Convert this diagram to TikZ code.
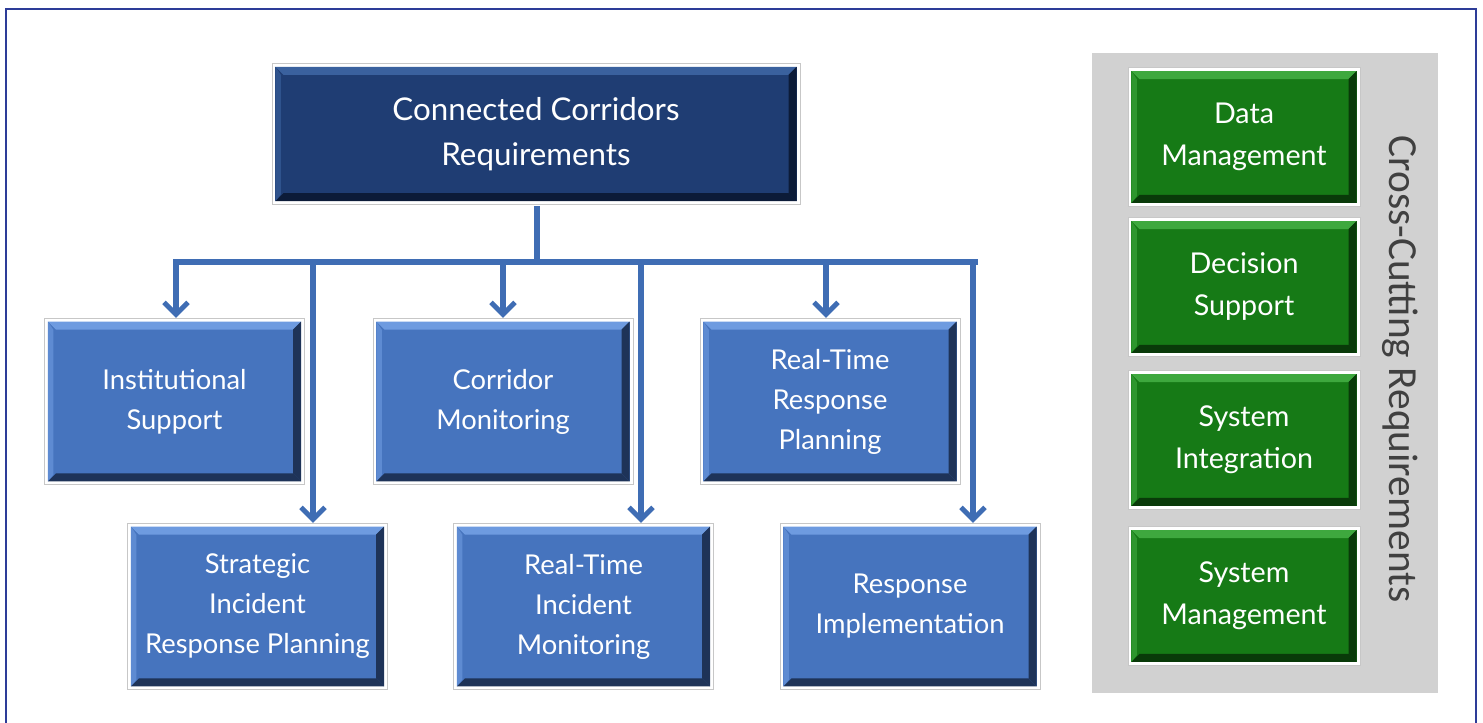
\documentclass[tikz,border=0pt]{standalone}
\usepackage{fontspec}
\setmainfont{Lato}
\newfontfamily\sidefont{Carlito}
\usetikzlibrary{arrows.meta}
\definecolor{bbase}{HTML}{4674BE}
\definecolor{bdark}{HTML}{1E3358}
\definecolor{blight}{HTML}{6E9BE0}
\definecolor{nbase}{HTML}{1F3D73}
\definecolor{ndark}{HTML}{0C1B38}
\definecolor{nlight}{HTML}{3A619E}
\definecolor{gbase}{HTML}{167A16}
\definecolor{gdark}{HTML}{093A09}
\definecolor{glight}{HTML}{3EA83E}
\definecolor{conn}{HTML}{3F6DB4}
\definecolor{framec}{HTML}{2D3C98}
\definecolor{panel}{HTML}{D1D1D1}
\definecolor{sidetext}{HTML}{404040}
\tikzset{
  bevel/.style n args={3}{
    rectangle, draw=black!22, line width=0.6pt, fill=white, text=white,
    align=center,
    path picture={
      \path (path picture bounding box.south west) ++(2.6pt,2.6pt) coordinate (isw);
      \path (path picture bounding box.north east) ++(-2.6pt,-2.6pt) coordinate (ine);
      \path (isw |- ine) coordinate (inw);
      \path (ine |- isw) coordinate (ise);
      \fill[#1] (isw) rectangle (ine);
      \fill[#3] (inw) -- (ine) -- ([shift={(-6pt,-6pt)}]ine) -- ([shift={(6pt,-6pt)}]inw) -- cycle;
      \fill[#3!60!#1] (inw) -- (isw) -- ([shift={(4pt,5pt)}]isw) -- ([shift={(4pt,-6pt)}]inw) -- cycle;
      \fill[#2] (isw) -- (ise) -- ([shift={(-6pt,6pt)}]ise) -- ([shift={(6pt,6pt)}]isw) -- cycle;
      \fill[#2] (ise) -- (ine) -- ([shift={(-6pt,-6pt)}]ine) -- ([shift={(-6pt,6pt)}]ise) -- cycle;
    }},
  bluebox/.style={bevel={bbase}{bdark}{blight}, minimum width=195pt, minimum height=125pt,
    font=\fontsize{20.5}{30}\selectfont},
  navybox/.style={bevel={nbase}{ndark}{nlight}, minimum width=396pt, minimum height=106pt,
    font=\fontsize{23.5}{34}\selectfont},
  greenbox/.style={bevel={gbase}{gdark}{glight}, minimum width=174pt, minimum height=104pt,
    font=\fontsize{21.5}{31.5}\selectfont},
  conline/.style={draw=conn, line width=3.9pt},
  conarrow/.style={conline, -{Straight Barb[length=9pt,width=18pt,line width=3.6pt]}},
}
\begin{document}
\begin{tikzpicture}[x=0.75pt,y=-0.75pt]
\useasboundingbox (0,0) rectangle (1483,723);
\begin{scope}
\clip (0,0) rectangle (1483,723);
\draw[framec, line width=1.6pt] (6,9) rectangle (1476,740);
\end{scope}
% right panel
\fill[panel] (1092,53) rectangle (1438,693);
\node[greenbox] (dm) at (1244,137) {Data\\Management};
\node[greenbox] (ds) at (1244,287) {Decision\\Support};
\node[greenbox] (si) at (1244,440) {System\\Integration};
\node[greenbox] (sm) at (1244,596) {System\\Management};
\node[rotate=-90, text=sidetext, font=\sidefont\fontsize{31}{36}\selectfont] (cc) at (1400,369) {Cross-Cutting Requirements};
% main tree
\node[navybox] (top) at (536,134) {Connected Corridors\\Requirements};
\node[bluebox] (inst) at (174.5,401.5) {Institutional\\Support};
\node[bluebox] (corr) at (503,401.5) {Corridor\\Monitoring};
\node[bluebox] (rtrp) at (830,401.5) {Real-Time\\Response\\Planning};
\node[bluebox] (strat) at (257.5,606.5) {Strategic\\Incident\\Response Planning};
\node[bluebox] (rtim) at (583.5,606.5) {Real-Time\\Incident\\Monitoring};
\node[bluebox] (resp) at (910,606.5) {Response\\Implementation};
% connectors
\coordinate (hub) at (537,262);
\coordinate (hl) at (176,262);
\coordinate (hr) at (975,262);
\draw[conline] ([yshift=-1pt]top.south -| hub) -- (hub);
\draw[conline, line cap=rect] (hl) -- (hr);
\draw[conarrow] (hl) -- (inst.north -| hl);
\draw[conarrow] (313,262) -- (strat.north -| 313,0);
\draw[conarrow] (503,262) -- (corr.north);
\draw[conarrow] (641,262) -- (rtim.north -| 641,0);
\draw[conarrow] (826,262) -- (rtrp.north -| 826,0);
\draw[conarrow] (973,262) -- (resp.north -| 973,0);
\end{tikzpicture}
\end{document}
